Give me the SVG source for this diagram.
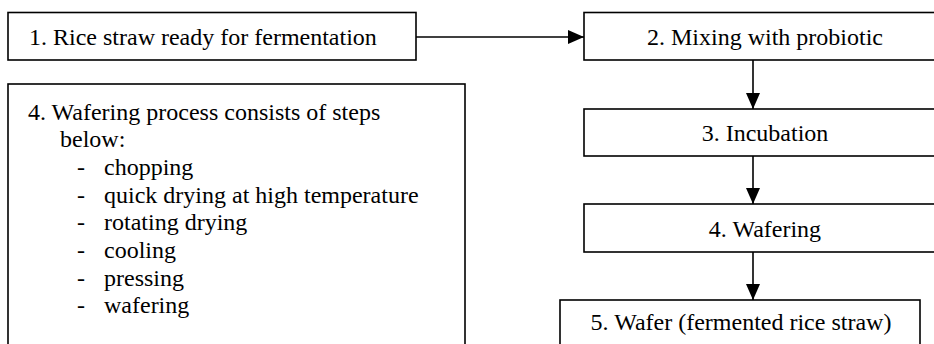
<svg xmlns="http://www.w3.org/2000/svg" width="934" height="344" viewBox="0 0 934 344">
<style>
.box{fill:#fff;stroke:#000;stroke-width:1.6}
.t{font-family:'Liberation Serif','Times New Roman',serif;font-size:24px;fill:#000}
.c{text-anchor:middle}
.ln{stroke:#000;stroke-width:1.6;fill:none}
</style>
<defs>
<marker id="ah" markerUnits="userSpaceOnUse" markerWidth="16" markerHeight="16" viewBox="0 0 16 16" refX="16" refY="8" orient="auto">
<path d="M0,1 L16,8 L0,15 Z" fill="#000"/>
</marker>
</defs>
<g id="connectors">
<line class="ln" x1="416" y1="37" x2="584" y2="37" marker-end="url(#ah)"/>
<line class="ln" x1="753" y1="60" x2="753" y2="109" marker-end="url(#ah)"/>
<line class="ln" x1="753" y1="156" x2="753" y2="204" marker-end="url(#ah)"/>
<line class="ln" x1="753" y1="252" x2="753" y2="300" marker-end="url(#ah)"/>
</g>
<g id="n1">
<rect class="box" x="8" y="12.5" width="408" height="47.5"/>
<text class="t" x="29" y="45">1. Rice straw ready for fermentation</text>
</g>
<g id="n2">
<rect class="box" x="584" y="12.5" width="362" height="47.5"/>
<text class="t c" x="765" y="45">2. Mixing with probiotic</text>
</g>
<g id="n3">
<rect class="box" x="584" y="109" width="362" height="47"/>
<text class="t c" x="765" y="141">3. Incubation</text>
</g>
<g id="n4">
<rect class="box" x="584" y="204" width="362" height="48"/>
<text class="t c" x="765" y="237">4. Wafering</text>
</g>
<g id="n5">
<rect class="box" x="560" y="300" width="360" height="60"/>
<text class="t c" x="741" y="330">5. Wafer (fermented rice straw)</text>
</g>
<g id="n6">
<rect class="box" x="8" y="84" width="457" height="280"/>
<text class="t" x="28" y="119.5">4. Wafering process consists of steps</text>
<text class="t" x="60" y="147.2">below:</text>
<text class="t" x="77" y="174.9">-</text><text class="t" x="104" y="174.9">chopping</text>
<text class="t" x="77" y="202.6">-</text><text class="t" x="104" y="202.6">quick drying at high temperature</text>
<text class="t" x="77" y="230.3">-</text><text class="t" x="104" y="230.3">rotating drying</text>
<text class="t" x="77" y="258">-</text><text class="t" x="104" y="258">cooling</text>
<text class="t" x="77" y="285.7">-</text><text class="t" x="104" y="285.7">pressing</text>
<text class="t" x="77" y="313.4">-</text><text class="t" x="104" y="313.4">wafering</text>
</g>
</svg>
